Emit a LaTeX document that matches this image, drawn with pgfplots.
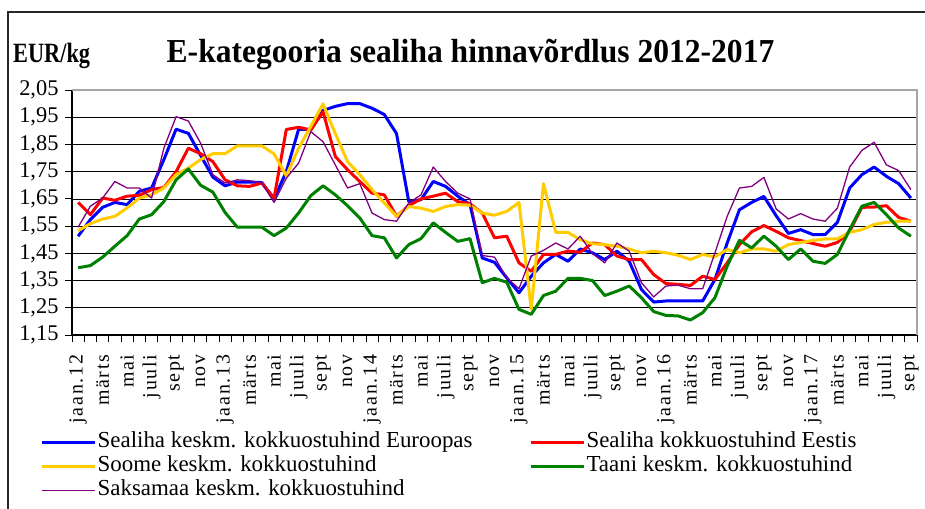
\documentclass[border=0pt]{standalone}
\usepackage{pgfplots}
\pgfplotsset{compat=1.18}
\usepackage{pgfplotstable}
\usepackage{fontspec}
\usepackage{graphicx}
\setmainfont{Liberation Serif}
\newfontfamily\xlab{Liberation Serif}[LetterSpace=9]

\definecolor{euro}{HTML}{0000FF}
\definecolor{eesti}{HTML}{FF0000}
\definecolor{soome}{HTML}{FFCC00}
\definecolor{taani}{HTML}{008000}
\definecolor{saksa}{HTML}{800080}

% monthly prices, EUR/kg, jaan.12 = 0 ... sept.17 = 68
\pgfplotstableread{
m eu ee fi dk de
0 1.513 1.637 1.533 1.397 1.546
1 1.574 1.592 1.559 1.405 1.623
2 1.619 1.653 1.576 1.436 1.653
3 1.637 1.645 1.586 1.476 1.714
4 1.629 1.660 1.617 1.515 1.690
5 1.678 1.663 1.653 1.576 1.690
6 1.690 1.684 1.665 1.592 1.653
7 1.794 1.692 1.690 1.640 1.836
8 1.906 1.750 1.739 1.720 1.952
9 1.891 1.836 1.763 1.760 1.936
10 1.810 1.816 1.794 1.700 1.855
11 1.730 1.787 1.816 1.675 1.739
12 1.698 1.720 1.816 1.600 1.708
13 1.712 1.698 1.845 1.546 1.720
14 1.712 1.696 1.845 1.546 1.717
15 1.710 1.708 1.845 1.546 1.708
16 1.650 1.653 1.815 1.515 1.637
17 1.750 1.905 1.735 1.543 1.726
18 1.905 1.913 1.836 1.598 1.781
19 1.905 1.903 1.916 1.662 1.897
20 1.975 1.970 1.999 1.698 1.860
21 1.990 1.806 1.890 1.665 1.775
22 2.000 1.757 1.787 1.625 1.690
23 2.000 1.714 1.739 1.580 1.706
24 1.983 1.671 1.684 1.515 1.598
25 1.960 1.665 1.635 1.507 1.574
26 1.890 1.586 1.586 1.433 1.568
27 1.640 1.625 1.622 1.482 1.635
28 1.647 1.650 1.616 1.504 1.665
29 1.714 1.660 1.604 1.562 1.767
30 1.696 1.671 1.622 1.527 1.714
31 1.660 1.640 1.629 1.494 1.671
32 1.629 1.632 1.627 1.504 1.650
33 1.433 1.598 1.598 1.342 1.442
34 1.417 1.507 1.590 1.358 1.436
35 1.360 1.513 1.604 1.344 1.360
36 1.305 1.415 1.637 1.244 1.320
37 1.366 1.384 1.244 1.226 1.440
38 1.415 1.446 1.706 1.295 1.461
39 1.446 1.446 1.527 1.311 1.488
40 1.421 1.458 1.527 1.358 1.466
41 1.466 1.454 1.500 1.358 1.513
42 1.452 1.488 1.485 1.350 1.449
43 1.427 1.482 1.482 1.295 1.415
44 1.458 1.440 1.476 1.311 1.488
45 1.421 1.427 1.466 1.330 1.458
46 1.317 1.427 1.452 1.287 1.342
47 1.271 1.372 1.458 1.236 1.290
48 1.275 1.339 1.452 1.222 1.330
49 1.275 1.336 1.443 1.220 1.333
50 1.275 1.332 1.427 1.205 1.320
51 1.275 1.366 1.446 1.232 1.320
52 1.354 1.354 1.437 1.287 1.452
53 1.488 1.415 1.464 1.403 1.586
54 1.610 1.482 1.452 1.498 1.690
55 1.637 1.529 1.466 1.470 1.696
56 1.659 1.552 1.466 1.513 1.729
57 1.588 1.531 1.458 1.476 1.613
58 1.523 1.507 1.482 1.427 1.576
59 1.537 1.497 1.490 1.466 1.596
60 1.519 1.486 1.497 1.421 1.576
61 1.519 1.476 1.503 1.413 1.568
62 1.564 1.490 1.503 1.446 1.616
63 1.690 1.531 1.527 1.537 1.767
64 1.739 1.619 1.537 1.623 1.828
65 1.767 1.620 1.556 1.637 1.858
66 1.733 1.625 1.564 1.592 1.775
67 1.706 1.582 1.568 1.543 1.754
68 1.653 1.568 1.568 1.513 1.684
}\prices

\begin{document}
\begin{tikzpicture}
\useasboundingbox (0,0) rectangle (925bp,509bp);
\draw[line width=1.3bp, black!85] (8bp,0) -- (8bp,497bp) -- (925bp,497bp);
\node[anchor=base west, inner sep=0, font=\bfseries\fontsize{28}{30}\selectfont]
  at (13bp,446bp) {\scalebox{0.8}[1]{EUR/kg}};
\node[anchor=base, inner sep=0, font=\bfseries\fontsize{32}{36}\selectfont]
  at (470.5bp,446bp) {\scalebox{0.99}[1.05]{E-kategooria sealiha hinnavõrdlus 2012-2017}};
\begin{axis}[
  at={(72bp,174bp)}, anchor=south west,
  scale only axis, width=845bp, height=245bp,
  clip=false,
  xmin=-0.5, xmax=68.5, ymin=1.15, ymax=2.05,
  axis x line*=bottom, axis y line*=left,
  axis line style={-, line width=1.2bp, black},
  xtick={0,2,...,68},
  xticklabels={jaan.12,märts,mai,juuli,sept,nov,
    jaan.13,märts,mai,juuli,sept,nov,
    jaan.14,märts,mai,juuli,sept,nov,
    jaan.15,märts,mai,juuli,sept,nov,
    jaan.16,märts,mai,juuli,sept,nov,
    jaan.17,märts,mai,juuli,sept},
  minor xtick={-0.5,0.5,...,68.5},
  ytick={1.15,1.25,1.35,1.45,1.55,1.65,1.75,1.85,1.95,2.05},
  tick align=outside, major tick length=7bp, minor tick length=7bp,
  tick style={black, line width=0.8bp},
  major x tick style={draw=none},
  ymajorgrids, grid style={black, line width=0.7bp},
  /pgf/number format/assume math mode=true,
  yticklabel style={font=\fontsize{22.5}{24}\selectfont, xshift=-3bp,
    /pgf/number format/fixed, /pgf/number format/fixed zerofill,
    /pgf/number format/precision=2, /pgf/number format/use comma},
  xticklabel style={rotate=90, anchor=east, font=\xlab\fontsize{20}{21}\selectfont},
  xticklabel shift=9bp,
  legend columns=2,
  legend cell align=left,
  legend style={at={(rel axis cs:-0.0414,-0.38)}, anchor=north west,
    draw=none, fill=none, font=\fontsize{23}{25}\selectfont,
    row sep=0bp,
    nodes={inner sep=1.5bp, text height=16bp, text depth=5bp},
    /tikz/every even column/.append style={column sep=55bp}},
  legend image code/.code={\draw[#1] (0bp,0bp) -- (53bp,0bp);},
  every axis plot/.append style={line join=round},
]
\addplot[euro, line width=3bp] table[x=m, y=eu] {\prices};
\addlegendentry{Sealiha keskm. kokkuostuhind Euroopas}
\addplot[eesti, line width=3bp] table[x=m, y=ee] {\prices};
\addlegendentry{Sealiha kokkuostuhind Eestis}
\addplot[soome, line width=3bp] table[x=m, y=fi] {\prices};
\addlegendentry{Soome keskm. kokkuostuhind}
\addplot[taani, line width=3bp] table[x=m, y=dk] {\prices};
\addlegendentry{Taani keskm. kokkuostuhind}
\addplot[saksa, line width=1.3bp] table[x=m, y=de] {\prices};
\addlegendentry{Saksamaa keskm. kokkuostuhind}
\draw[gray!70, line width=2bp] (rel axis cs:0,1) -- (rel axis cs:1,1) -- (rel axis cs:1,0);
\end{axis}
\end{tikzpicture}
\end{document}
